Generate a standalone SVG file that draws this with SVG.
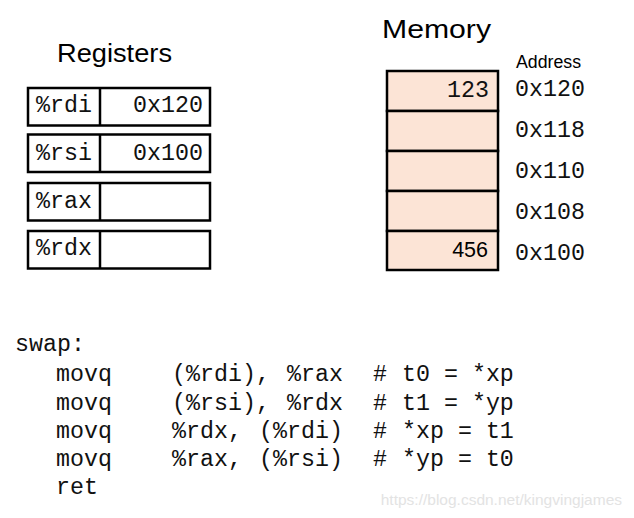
<svg xmlns="http://www.w3.org/2000/svg" width="634" height="518" viewBox="0 0 634 518">
<style>
.box{fill:#ffffff;stroke:#000;stroke-width:2.5}
.mem{fill:#fce4d6;stroke:#000;stroke-width:2.5}
.ln{stroke:#000;stroke-width:2.5}
.mono{font-family:"Liberation Mono","Courier New",monospace;font-size:23.3px;fill:#111}
.sans{font-family:"Liberation Sans",Arial,sans-serif;fill:#000}
.title{font-size:25px}
.wm{font-family:"Liberation Sans",Arial,sans-serif;font-size:15.5px;fill:#e3e3e3}
</style>
<rect width="634" height="518" fill="#ffffff"/>
<g id="connectors"/>
<g id="registers">
<text class="sans title" x="57" y="62" textLength="115" lengthAdjust="spacingAndGlyphs">Registers</text>
<g id="reg-rdi">
<rect class="box" x="28" y="88" width="182" height="37.5"/>
<line class="ln" x1="100" y1="88" x2="100" y2="125.5"/>
<text class="mono" x="36" y="112">%rdi</text>
<text class="mono" x="203" y="112" text-anchor="end">0x120</text>
</g>
<g id="reg-rsi">
<rect class="box" x="28" y="134.5" width="182" height="37.5"/>
<line class="ln" x1="100" y1="134.5" x2="100" y2="172"/>
<text class="mono" x="36" y="159.5">%rsi</text>
<text class="mono" x="203" y="159.5" text-anchor="end">0x100</text>
</g>
<g id="reg-rax">
<rect class="box" x="28" y="183" width="182" height="37.5"/>
<line class="ln" x1="100" y1="183" x2="100" y2="220.5"/>
<text class="mono" x="36" y="207.5">%rax</text>
</g>
<g id="reg-rdx">
<rect class="box" x="28" y="231" width="182" height="37.5"/>
<line class="ln" x1="100" y1="231" x2="100" y2="268.5"/>
<text class="mono" x="36" y="255">%rdx</text>
</g>
</g>
<g id="memory">
<text class="sans title" x="382" y="38" textLength="109" lengthAdjust="spacingAndGlyphs">Memory</text>
<text class="sans" x="516" y="68" font-size="17.5" textLength="65" lengthAdjust="spacingAndGlyphs">Address</text>
<g id="mem-0x120">
<rect class="mem" x="387" y="71" width="111" height="40"/>
<text class="mono" x="489" y="97" text-anchor="end">123</text>
<text class="mono" x="515" y="96">0x120</text>
</g>
<g id="mem-0x118">
<rect class="mem" x="387" y="111" width="111" height="40"/>
<text class="mono" x="515" y="137">0x118</text>
</g>
<g id="mem-0x110">
<rect class="mem" x="387" y="151" width="111" height="40"/>
<text class="mono" x="515" y="177.5">0x110</text>
</g>
<g id="mem-0x108">
<rect class="mem" x="387" y="191" width="111" height="40"/>
<text class="mono" x="515" y="218.5">0x108</text>
</g>
<g id="mem-0x100">
<rect class="mem" x="387" y="231" width="111" height="39"/>
<text class="sans" x="488" y="257" font-size="21.5" text-anchor="end">456</text>
<text class="mono" x="515" y="260">0x100</text>
</g>
</g>
<g id="code">
<text class="mono" x="15" y="350.5">swap:</text>
<text class="mono" x="56" y="381">movq</text>
<text class="mono" x="172" y="381">(%rdi),</text>
<text class="mono" x="287" y="381">%rax</text>
<text class="mono" x="373" y="381">#</text>
<text class="mono" x="402" y="381">t0 = *xp</text>
<text class="mono" x="56" y="409.5">movq</text>
<text class="mono" x="172" y="409.5">(%rsi),</text>
<text class="mono" x="287" y="409.5">%rdx</text>
<text class="mono" x="373" y="409.5">#</text>
<text class="mono" x="402" y="409.5">t1 = *yp</text>
<text class="mono" x="56" y="437.5">movq</text>
<text class="mono" x="172" y="437.5">%rdx,</text>
<text class="mono" x="259" y="437.5">(%rdi)</text>
<text class="mono" x="373" y="437.5">#</text>
<text class="mono" x="402" y="437.5">*xp = t1</text>
<text class="mono" x="56" y="466">movq</text>
<text class="mono" x="172" y="466">%rax,</text>
<text class="mono" x="259" y="466">(%rsi)</text>
<text class="mono" x="373" y="466">#</text>
<text class="mono" x="402" y="466">*yp = t0</text>
<text class="mono" x="56" y="494">ret</text>
</g>
<text class="wm" x="622" y="505" text-anchor="end">https://blog.csdn.net/kingvingjames</text>
</svg>
